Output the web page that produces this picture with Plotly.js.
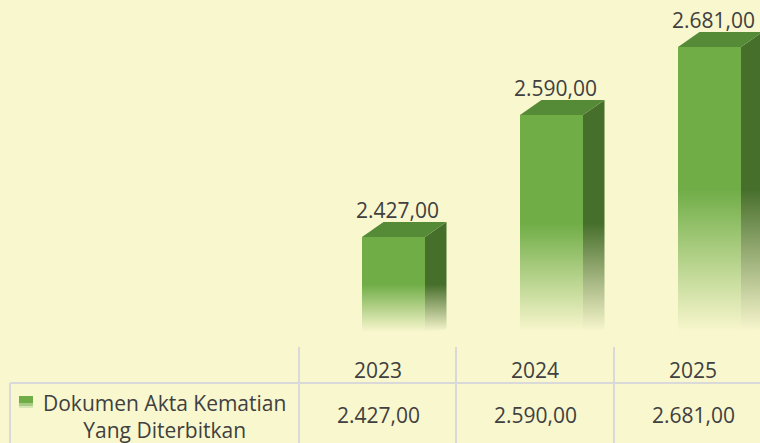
<!DOCTYPE html>
<html>
<head>
<meta charset="utf-8">
<script src="https://cdn.plot.ly/plotly-3.0.1.min.js"></script>
<style>
  html, body { margin: 0; padding: 0; background: #F9F7CE; }
  #chart { width: 760px; height: 443px; }
</style>
</head>
<body>
<div id="chart"></div>
<script>
// ---- data ----
const years = ['2023', '2024', '2025'];
const values = [2427, 2590, 2681];
const seriesLabel = ['Dokumen Akta Kematian', 'Yang Diterbitkan'];
const axisMin = 2300;

// ---- styles ----
const BG = '#F9F7CE';
const FRONT = '#70AD47';
const TOP = '#558A36';
const SIDE = '#476F2C';
const TEXT = '#404040';
const GRID = '#D9D9D9';
const FONT = 'Open Sans, Segoe UI, sans-serif';

const W = 760, H = 443;
// pixel geometry -> axis mapping
const pxPerUnitX = 158;          // pixels between categories
const firstCenterPx = 393.5;     // front-face centre of the first bar
const pxPerUnitY = 0.748;        // pixels per value unit
const basePx = 332;              // pixel row of axisMin
const xr = [-firstCenterPx / pxPerUnitX, (W - firstCenterPx) / pxPerUnitX];
const yr = [axisMin - (H - basePx) / pxPerUnitY, axisMin + basePx / pxPerUnitY];

const barW = 63 / pxPerUnitX;
const depthX = 21.5 / pxPerUnitX;
const depthY = 15 / pxPerUnitY;

function fmt(v) {
  const s = Math.round(v).toString().replace(/\B(?=(\d{3})+(?!\d))/g, '.');
  return s + ',00';
}
function fade(color, at) {
  return [[0, BG], [at, color], [1, color]];
}

const traces = [];
years.forEach((yr_, i) => {
  const v = values[i];
  const x0 = i - barW / 2, x1 = i + barW / 2;
  // side face
  traces.push({
    type: 'scatter', mode: 'lines', fill: 'toself', hoverinfo: 'skip', showlegend: false,
    x: [x1, x1, x1 + depthX, x1 + depthX, x1],
    y: [axisMin, v, v + depthY, axisMin + depthY * 0.2, axisMin],
    line: { width: 0 },
    fillgradient: { type: 'vertical', colorscale: fade(SIDE, 0.5), start: axisMin, stop: v }
  });
  // front face
  traces.push({
    type: 'scatter', mode: 'lines', fill: 'toself', hoverinfo: 'skip', showlegend: false,
    x: [x0, x1, x1, x0, x0],
    y: [axisMin, axisMin, v, v, axisMin],
    line: { width: 0 },
    fillgradient: { type: 'vertical', colorscale: fade(FRONT, 0.5), start: axisMin, stop: v }
  });
  // top face
  traces.push({
    type: 'scatter', mode: 'lines', fill: 'toself', hoverinfo: 'skip', showlegend: false,
    x: [x0, x1, x1 + depthX, x0 + depthX, x0],
    y: [v, v, v + depthY, v + depthY, v],
    line: { width: 0 },
    fillcolor: TOP
  });
});

const px = x => x / W;
const py = y => 1 - y / H;

const annotations = [];
// data labels
years.forEach((y, i) => {
  annotations.push({
    xref: 'x', yref: 'y', x: i + 4 / pxPerUnitX, y: values[i] + depthY,
    text: fmt(values[i]), showarrow: false, yanchor: 'bottom', yshift: -4,
    font: { family: FONT, size: 21, color: TEXT }
  });
});
// table
const colCenters = [378, 535, 693];
years.forEach((y, i) => {
  annotations.push({
    xref: 'paper', yref: 'paper', x: px(colCenters[i]), y: py(370),
    text: y, showarrow: false, xanchor: 'center', yanchor: 'middle',
    font: { family: FONT, size: 21, color: TEXT }
  });
  annotations.push({
    xref: 'paper', yref: 'paper', x: px(colCenters[i]), y: py(415),
    text: fmt(values[i]), showarrow: false, xanchor: 'center', yanchor: 'middle',
    font: { family: FONT, size: 21, color: TEXT }
  });
});
annotations.push({
  xref: 'paper', yref: 'paper', x: px(164), y: py(416),
  text: seriesLabel.join('<br>'), showarrow: false, xanchor: 'center', yanchor: 'middle',
  align: 'center',
  font: { family: FONT, size: 21, color: TEXT }
});

const line = (x0, y0, x1, y1) => ({
  type: 'line', xref: 'paper', yref: 'paper',
  x0: px(x0), y0: py(y0), x1: px(x1), y1: py(y1),
  line: { color: GRID, width: 2 }
});
const shapes = [
  line(10, 383, 760, 383),
  line(10, 383, 10, 443),
  line(299, 347, 299, 443),
  line(456, 347, 456, 443),
  line(614, 347, 614, 443),
  { type: 'rect', xref: 'paper', yref: 'paper', x0: px(19), x1: px(33), y0: py(396), y1: py(403),
    fillcolor: FRONT, line: { width: 0 } },
  { type: 'rect', xref: 'paper', yref: 'paper', x0: px(19), x1: px(33), y0: py(403), y1: py(406),
    fillcolor: '#A7CB80', line: { width: 0 } },
  { type: 'rect', xref: 'paper', yref: 'paper', x0: px(19), x1: px(33), y0: py(406), y1: py(408),
    fillcolor: '#D6E6B4', line: { width: 0 } }
];

const layout = {
  width: W, height: H,
  margin: { l: 0, r: 0, t: 0, b: 0, pad: 0 },
  paper_bgcolor: BG, plot_bgcolor: BG,
  showlegend: false,
  xaxis: { range: xr, visible: false, fixedrange: true },
  yaxis: { range: yr, visible: false, fixedrange: true },
  annotations: annotations,
  shapes: shapes
};

Plotly.newPlot('chart', traces, layout, { displayModeBar: false, staticPlot: true });
</script>
</body>
</html>
